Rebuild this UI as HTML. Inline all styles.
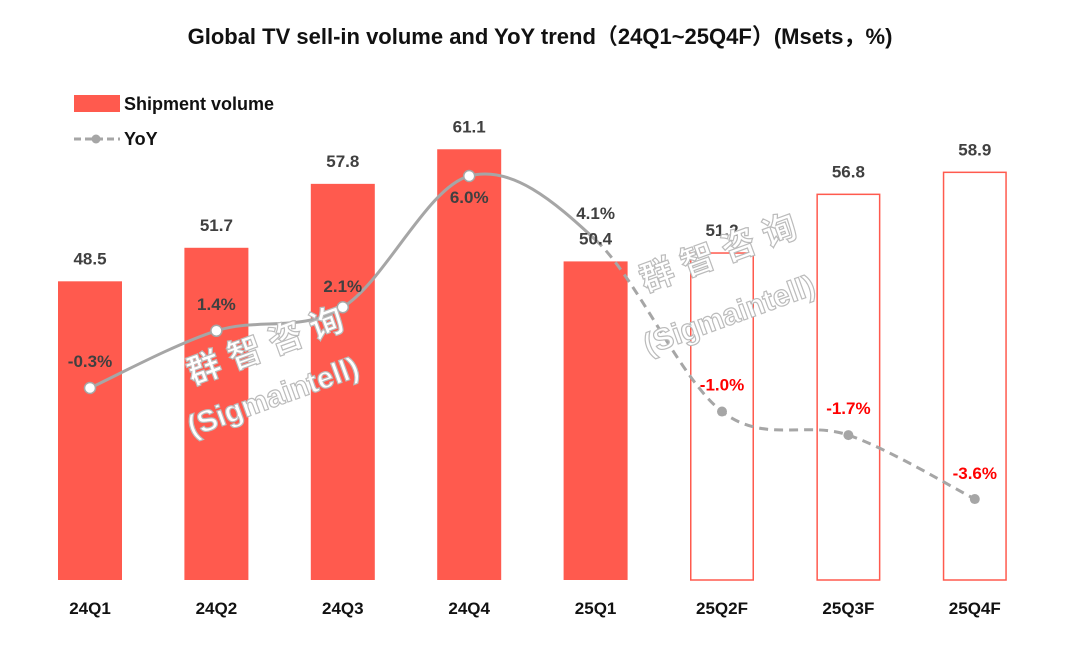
<!DOCTYPE html>
<html><head><meta charset="utf-8"><style>
html,body{margin:0;padding:0;background:#fff;}
svg{display:block;font-family:"Liberation Sans","Noto Sans CJK SC",sans-serif;}
</style></head><body>
<svg id="chart" width="1080" height="647" viewBox="0 0 1080 647">
<text x="540" y="44" text-anchor="middle" font-size="22" font-weight="bold" fill="#111">Global TV sell-in volume and YoY trend（24Q1~25Q4F）(Msets，%)</text>
<g>
<rect x="74" y="95" width="46" height="17" fill="#FF5A4E"/>
<text x="124" y="110" font-size="18" font-weight="bold" fill="#111">Shipment volume</text>
<line x1="74" y1="139" x2="120" y2="139" stroke="#A6A6A6" stroke-width="3" stroke-dasharray="7,4"/>
<circle cx="96" cy="139" r="4.5" fill="#A6A6A6"/>
<text x="124" y="145" font-size="18" font-weight="bold" fill="#111">YoY</text>
</g>
<g id="bars"></g>
<g id="line"></g>
<g id="labels"></g>
<g id="wm" fill="#fff" stroke="#bbb" stroke-width="1.2" font-weight="bold">
<text x="0" y="0" font-size="34" transform="translate(192,385) rotate(-20)">群 智 咨 询</text>
<text x="0" y="0" font-size="30" transform="translate(192,437) rotate(-20)">(Sigmaintell)</text>
<text x="0" y="0" font-size="34" transform="translate(645,292) rotate(-20)">群 智 咨 询</text>
<text x="0" y="0" font-size="30" transform="translate(648,355) rotate(-20)">(Sigmaintell)</text>
</g>
</svg>
<script>
const categories=["24Q1","24Q2","24Q3","24Q4","25Q1","25Q2F","25Q3F","25Q4F"];
const volume=[48.5,51.7,57.8,61.1,50.4,51.2,56.8,58.9];
const yoy=[-0.3,1.4,2.1,6.0,4.1,-1.0,-1.7,-3.6];
const forecast=[false,false,false,false,false,true,true,true];
const NS="http://www.w3.org/2000/svg";
function xc(i){return 90+i*126.4;}
function yv(v){return 580-(v-20)*10.48;}
function yy(p){return 176+(6-p)*33.65;}
function mk(t,a,parent){const e=document.createElementNS(NS,t);for(const k in a)e.setAttribute(k,a[k]);parent.appendChild(e);return e;}
const gb=document.getElementById('bars'),gl=document.getElementById('line'),gt=document.getElementById('labels');
const bw=64;
categories.forEach((c,i)=>{
  const top=yv(volume[i]);
  const r=mk('rect',forecast[i]?{x:xc(i)-bw/2+0.75,y:top,width:bw-1.5,height:580-top,fill:'none',stroke:'#FF5A4E','stroke-width':1.5}:{x:xc(i)-bw/2,y:top,width:bw,height:580-top,fill:'#FF5A4E'},gb);
  
  
  const vl=mk('text',{x:xc(i),y:top-17,'text-anchor':'middle','font-size':17,'font-weight':'bold',fill:'#404040'},gt);
  vl.textContent=volume[i].toFixed(1);
  
  
  const xl=mk('text',{x:xc(i),y:614,'text-anchor':'middle','font-size':17,'font-weight':'bold',fill:'#111'},gt);
  xl.textContent=c;
  
  
});
const pts=yoy.map((p,i)=>[xc(i),yy(p)]);
function seg(i){
  const p0=pts[Math.max(i-1,0)],p1=pts[i],p2=pts[i+1],p3=pts[Math.min(i+2,pts.length-1)];
  const t=1/6;
  return `C${p1[0]+(p2[0]-p0[0])*t},${p1[1]+(p2[1]-p0[1])*t} ${p2[0]-(p3[0]-p1[0])*t},${p2[1]-(p3[1]-p1[1])*t} ${p2[0]},${p2[1]}`;
}
let d1=`M${pts[0][0]},${pts[0][1]}`;for(let i=0;i<4;i++)d1+=seg(i);
let d2=`M${pts[4][0]},${pts[4][1]}`;for(let i=4;i<7;i++)d2+=seg(i);
const l1=mk('path',{d:d1,fill:'none',stroke:'#A6A6A6','stroke-width':3},gl);


const l2=mk('path',{d:d2,fill:'none',stroke:'#A6A6A6','stroke-width':3,'stroke-dasharray':'9,6'},gl);


const offs=[-21,-21,-15,27,-21,-21,-21,-20];
yoy.forEach((p,i)=>{
  if(i!==4){
    const m=mk('circle',forecast[i]?{cx:pts[i][0],cy:pts[i][1],r:5,fill:'#A6A6A6'}:{cx:pts[i][0],cy:pts[i][1],r:5.5,fill:'#fff',stroke:'#A6A6A6','stroke-width':1.5},gl);
    
    
  }
  const t=mk('text',{x:pts[i][0],y:pts[i][1]+offs[i],'text-anchor':'middle','font-size':17,'font-weight':'bold',fill:p<0&&forecast[i]?'#FF0000':'#404040'},gt);
  t.textContent=p.toFixed(1)+'%';
  
  
});
</script>
</body></html>
